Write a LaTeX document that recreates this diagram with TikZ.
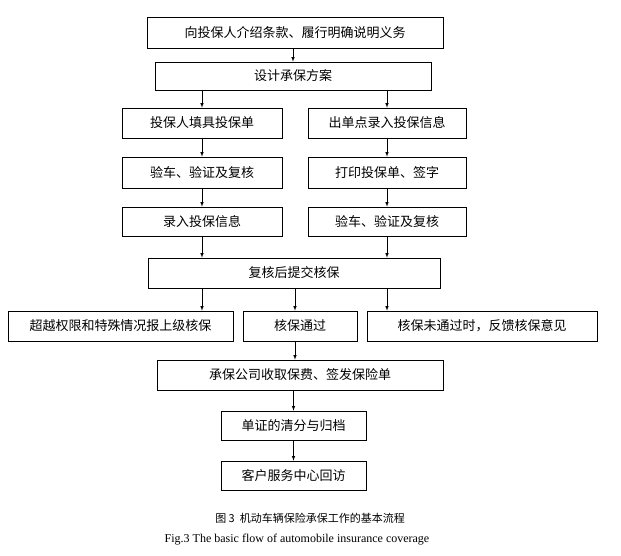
\documentclass[tikz,border=0pt]{standalone}
\usepackage{fontspec}
\setmainfont{Liberation Serif}
\newfontfamily\cjk{Noto Sans CJK SC}
\usetikzlibrary{positioning}
\begin{document}
\begin{tikzpicture}[x=1pt, y=-1pt, semithick, >=latex,
            box/.style ={draw, rectangle, inner sep=0pt, font=\cjk\fontsize{13}{15}\selectfont},
            arr/.style ={->}]
        \useasboundingbox (0,0) rectangle (621,555);

        %\node [estilo] (nombre) at (posicion) {};
        \node[box, minimum width=296, minimum height=31] (intro) at (295, 32.5) {向投保人介绍条款、履行明确说明义务};
        \node[box, minimum width=276, minimum height=28] (plan) at (293, 76) {设计承保方案};

        \node[box, minimum width=160, minimum height=30] (L1) at (202, 123) {投保人填具投保单};
        \node[box, minimum width=160, minimum height=31] (L2) at (202, 172.5) {验车、验证及复核};
        \node[box, minimum width=160, minimum height=29] (L3) at (202, 221.5) {录入投保信息};
        \node[box, minimum width=158, minimum height=30] (R1) at (387, 123) {出单点录入投保信息};
        \node[box, minimum width=158, minimum height=31] (R2) at (387, 172.5) {打印投保单、签字};
        \node[box, minimum width=158, minimum height=29] (R3) at (387, 221.5) {验车、验证及复核};

        \node[box, minimum width=292, minimum height=30] (check) at (294, 273) {复核后提交核保};
        \node[box, minimum width=225, minimum height=30] (up) at (120.5, 326) {超越权限和特殊情况报上级核保};
        \node[box, minimum width=114, minimum height=30] (pass) at (300, 326) {核保通过};
        \node[box, minimum width=230, minimum height=30] (fail) at (482, 326) {核保未通过时，反馈核保意见};

        \node[box, minimum width=286, minimum height=30] (issue) at (300, 375) {承保公司收取保费、签发保险单};
        \node[box, minimum width=145, minimum height=29] (file) at (293.5, 425.5) {单证的清分与归档};
        \node[box, minimum width=145, minimum height=29] (visit) at (293.5, 475.5) {客户服务中心回访};

        \node[font=\cjk\fontsize{11}{13}\selectfont] (cap1) at (310, 518) {图 3\ \ 机动车辆保险承保工作的基本流程};
        \node[font=\fontsize{12}{14}\selectfont] (cap2) at (297, 540) {Fig.3 The basic flow of automobile insurance coverage};

        \coordinate (mid) at (295, 0);

        \draw[arr] (intro.south -| plan.north) -- (plan);
        \draw[arr] (plan.south -| L1.north) -- (L1);
        \draw[arr] (plan.south -| R1.north) -- (R1);
        \draw[arr] (L1) -- (L2);
        \draw[arr] (L2) -- (L3);
        \draw[arr] (R1) -- (R2);
        \draw[arr] (R2) -- (R3);
        \draw[arr] (L3.south) -- (L3.south |- check.north);
        \draw[arr] (R3.south) -- (R3.south |- check.north);

        \draw[arr] (L3.south |- check.south) -- (L3.south |- up.north);
        \draw[arr] (mid |- check.south) -- (mid |- pass.north);
        \draw[arr] (R3.south |- check.south) -- (R3.south |- fail.north);

        \draw[arr] (mid |- pass.south) -- (mid |- issue.north);
        \draw[arr] (issue.south -| file.north) -- (file);
        \draw[arr] (file) -- (visit);
\end{tikzpicture}
\end{document}
